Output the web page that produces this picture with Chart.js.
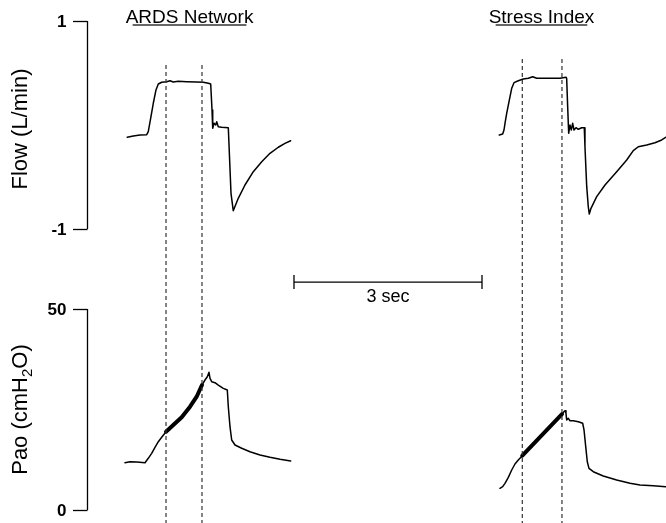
<!DOCTYPE html>
<html>
<head>
<meta charset="utf-8">
<script src="https://cdn.jsdelivr.net/npm/chart.js@4"></script>
<style>
  html, body { margin: 0; padding: 0; background: #fff; }
  canvas { display: block; }
</style>
</head>
<body>
<canvas id="c" width="666" height="523"></canvas>
<script>
// ---- Recorded breaths (time in s, flow in L/min, airway pressure in cmH2O) ----

// Breath ventilated with the ARDS Network protocol
const flowArdsTime = [0.627,0.723,0.830,0.937,0.962,1.000,1.042,1.085,1.122,1.176,1.256,1.308,1.361,1.441,1.575,1.734,1.840,1.920,1.958,1.979,1.990,2.011,2.038,2.054,2.079,2.133,2.239,2.282,2.318,2.398,2.505,2.638,2.772,2.904,3.037,3.143,3.234];
const flowArdsValue = [-0.118,-0.106,-0.096,-0.093,-0.064,0.064,0.209,0.337,0.394,0.411,0.416,0.426,0.413,0.420,0.416,0.413,0.411,0.401,0.394,0.144,-0.032,0.016,0.000,0.032,-0.016,-0.022,-0.026,-0.657,-0.824,-0.705,-0.577,-0.449,-0.353,-0.272,-0.214,-0.176,-0.151];
const paoArdsTime = [0.590,0.670,0.777,0.910,0.962,1.016,1.069,1.122,1.176,1.245,1.361,1.495,1.628,1.734,1.819,1.867,1.904,1.931,1.947,1.974,2.026,2.079,2.159,2.223,2.239,2.266,2.293,2.346,2.453,2.585,2.745,2.904,3.064,3.234];
const paoArdsValue = [11.77,12.01,11.94,11.77,12.86,14.10,15.60,16.99,18.08,19.48,21.14,23.06,25.70,28.18,31.09,32.34,33.16,34.25,32.76,31.92,31.67,31.09,30.27,29.85,25.70,20.72,17.41,16.17,15.35,14.50,13.68,13.11,12.61,12.19];

// Breath ventilated with the stress-index strategy
const flowStressTime = [6.563,6.617,6.638,6.654,6.681,6.723,6.761,6.798,6.866,6.946,7.026,7.096,7.160,7.265,7.425,7.532,7.627,7.638,7.654,7.670,7.691,7.712,7.734,7.755,7.787,7.824,7.878,7.919,7.930,7.958,7.983,7.999,8.026,8.117,8.250,8.436,8.596,8.701,8.781,8.915,9.047,9.154,9.218];
const flowStressValue = [-0.096,-0.087,-0.048,0.016,0.112,0.240,0.353,0.407,0.426,0.442,0.449,0.464,0.449,0.449,0.449,0.449,0.459,0.449,0.176,-0.080,0.000,-0.048,0.016,-0.048,-0.026,-0.041,-0.026,-0.026,-0.209,-0.593,-0.786,-0.856,-0.801,-0.689,-0.577,-0.449,-0.337,-0.247,-0.209,-0.192,-0.170,-0.144,-0.118];
const paoStressTime = [6.574,6.617,6.654,6.707,6.761,6.813,6.866,6.930,7.563,7.595,7.616,7.627,7.638,7.664,7.691,7.744,7.824,7.894,7.915,7.942,7.967,7.994,8.063,8.222,8.436,8.649,8.808,9.020,9.218];
const paoStressValue = [5.40,5.80,6.64,8.13,9.95,11.44,12.44,13.51,23.88,24.45,24.70,24.05,22.39,22.81,22.21,22.21,21.97,21.57,19.90,15.75,12.01,10.37,9.53,8.46,7.46,6.64,6.22,6.04,5.80];

// Constant-flow window analysed in each breath (s)
const ardsWindow = [1.245, 1.819];
const stressWindow = [6.930, 7.563];

// Axis ticks and labels
const flowTicks = [-1, 1];
const paoTicks = [0, 50];
const panelTitles = ['ARDS Network', 'Stress Index'];
const flowTitle = 'Flow (L/min)';
const scaleBarSeconds = 3;

// ---- Drawing ----
const FONT = '"Liberation Sans", Arial, Helvetica, sans-serif';
const X_MIN = -1.404, X_MAX = 9.223;
const FLOW_MIN = -3.827, FLOW_MAX = 1.202;
const PAO_MIN = -3.234, PAO_MAX = 126.87;
const SCALE_BAR_START = 3.287, SCALE_BAR_LEVEL = -1.51;
const TITLE_CENTERS = [1.62, 7.236];
const MARKER_TOPS = [0.577, 0.635];

const pts = (t, v) => t.map((ti, i) => ({ x: ti, y: v[i] }));
const within = (t, v, w) => pts(t, v).filter(p => p.x >= w[0] - 1e-6 && p.x <= w[1] + 1e-6);

const trace = (data, yAxisID, width) => ({
  data, yAxisID, showLine: true, borderColor: '#000', borderWidth: width,
  pointRadius: 0, pointHoverRadius: 0, tension: 0, fill: false,
  borderCapStyle: 'round', borderJoinStyle: 'round'
});
const marker = (t, top) => ({
  data: [{ x: t, y: top }, { x: t, y: FLOW_MIN }], yAxisID: 'yFlow', showLine: true,
  borderColor: '#333', borderWidth: 1.2, borderDash: [4, 3], pointRadius: 0, pointHoverRadius: 0
});

const datasets = [
  marker(ardsWindow[0], MARKER_TOPS[0]), marker(ardsWindow[1], MARKER_TOPS[0]),
  marker(stressWindow[0], MARKER_TOPS[1]), marker(stressWindow[1], MARKER_TOPS[1]),
  trace(pts(flowArdsTime, flowArdsValue), 'yFlow', 1.5),
  trace(pts(flowStressTime, flowStressValue), 'yFlow', 1.5),
  trace(pts(paoArdsTime, paoArdsValue), 'yPao', 1.5),
  trace(pts(paoStressTime, paoStressValue), 'yPao', 1.5),
  trace(within(paoArdsTime, paoArdsValue, ardsWindow), 'yPao', 4),
  trace(within(paoStressTime, paoStressValue, stressWindow), 'yPao', 4),
  {
    data: [{ x: SCALE_BAR_START, y: SCALE_BAR_LEVEL }, { x: SCALE_BAR_START + scaleBarSeconds, y: SCALE_BAR_LEVEL }],
    yAxisID: 'yFlow', showLine: true, borderColor: '#000', borderWidth: 1.3,
    pointStyle: 'line', rotation: 90, pointRadius: 7, pointBorderWidth: 1.3,
    pointBorderColor: '#000', pointHoverRadius: 7
  }
];

const decor = {
  id: 'decor',
  afterDraw(chart) {
    const { ctx, scales: { x, yFlow, yPao } } = chart;
    const x0 = Math.round(x.getPixelForValue(0)) - 0.5;
    ctx.save();
    ctx.strokeStyle = '#000';
    ctx.fillStyle = '#000';
    ctx.lineWidth = 1.3;

    // Y axes as brackets between the end ticks
    [[yFlow, flowTicks], [yPao, paoTicks]].forEach(([s, ticks]) => {
      const top = s.getPixelForValue(Math.max(...ticks));
      const bot = s.getPixelForValue(Math.min(...ticks));
      ctx.beginPath(); ctx.moveTo(x0, top); ctx.lineTo(x0, bot); ctx.stroke();
      ctx.font = 'bold 17px ' + FONT;
      ctx.textAlign = 'right';
      ctx.textBaseline = 'middle';
      ticks.forEach(v => {
        const py = Math.round(s.getPixelForValue(v)) + 0.5;
        ctx.beginPath(); ctx.moveTo(x0 - 14.5, py); ctx.lineTo(x0, py); ctx.stroke();
        ctx.fillText(String(v), x0 - 21, py + 1);
      });
    });

    // Axis titles
    ctx.textBaseline = 'alphabetic';
    ctx.save();
    ctx.translate(27, (yFlow.getPixelForValue(1) + yFlow.getPixelForValue(-1)) / 2 + 4);
    ctx.rotate(-Math.PI / 2);
    ctx.font = '22px ' + FONT;
    ctx.textAlign = 'center';
    ctx.fillText(flowTitle, 0, 0);
    ctx.restore();

    ctx.save();
    ctx.translate(27, (yPao.getPixelForValue(0) + yPao.getPixelForValue(50)) / 2);
    ctx.rotate(-Math.PI / 2);
    const big = '22px ' + FONT, small = '15px ' + FONT;
    const parts = [['Pao (cmH', big, 0], ['2', small, 5], ['O)', big, 0]];
    let total = 0;
    parts.forEach(p => { ctx.font = p[1]; p.w = ctx.measureText(p[0]).width; total += p.w; });
    let cx = -total / 2;
    ctx.textAlign = 'left';
    parts.forEach(p => { ctx.font = p[1]; ctx.fillText(p[0], cx, p[2]); cx += p.w; });
    ctx.restore();

    // Panel titles, underlined
    ctx.font = '19px ' + FONT;
    ctx.textAlign = 'center';
    panelTitles.forEach((t, i) => {
      const cxp = x.getPixelForValue(TITLE_CENTERS[i]);
      ctx.fillStyle = '#000';
      ctx.fillText(t, cxp, 23);
      const w = ctx.measureText(t).width;
      ctx.strokeStyle = '#333';
      ctx.lineWidth = 1.5;
      ctx.beginPath(); ctx.moveTo(cxp - w / 2 + 7, 25); ctx.lineTo(cxp + w / 2 - 7, 25); ctx.stroke();
    });

    // Scale bar caption
    ctx.font = '18px ' + FONT;
    ctx.fillStyle = '#000';
    ctx.fillText(scaleBarSeconds + ' sec', x.getPixelForValue(SCALE_BAR_START + scaleBarSeconds / 2), 301.5);
    ctx.restore();
  }
};

new Chart(document.getElementById('c'), {
  type: 'scatter',
  data: { datasets },
  options: {
    responsive: false,
    animation: false,
    devicePixelRatio: 1,
    layout: { padding: 0, autoPadding: false },
    plugins: { legend: { display: false }, tooltip: { enabled: false } },
    events: [],
    scales: {
      x: { type: 'linear', min: X_MIN, max: X_MAX, display: false },
      yFlow: { type: 'linear', position: 'left', min: FLOW_MIN, max: FLOW_MAX, display: false },
      yPao: { type: 'linear', position: 'left', min: PAO_MIN, max: PAO_MAX, display: false }
    }
  },
  plugins: [decor]
});
</script>
</body>
</html>
